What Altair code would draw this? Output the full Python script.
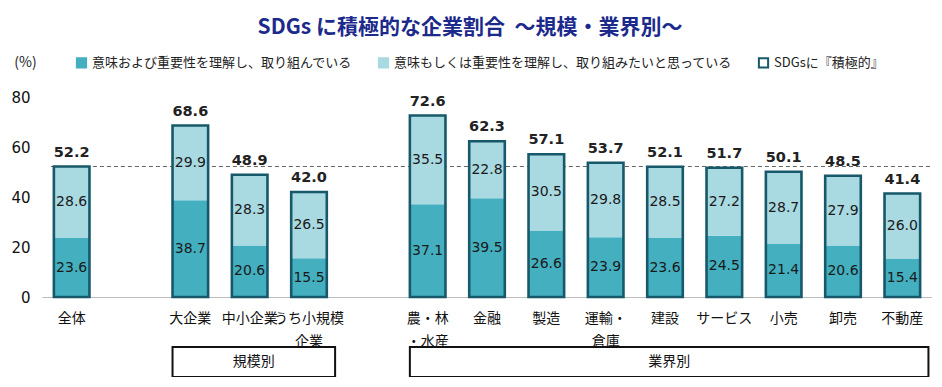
import altair as alt
import pandas as pd

# ---- data -------------------------------------------------------------
slots = ["全体", "_gap1", "大企業", "中小企業", "うち小規模企業", "_gap2",
         "農・林・水産", "金融", "製造", "運輸・倉庫", "建設", "サービス", "小売", "卸売", "不動産"]
categories = ["全体", "大企業", "中小企業", "うち小規模企業",
              "農・林・水産", "金融", "製造", "運輸・倉庫", "建設", "サービス", "小売", "卸売", "不動産"]
axis_labels = ["全体", "大企業", "中小企業", "うち小規模\n企業",
               "農・林\n・水産", "金融", "製造", "運輸・\n倉庫", "建設", "サービス", "小売", "卸売", "不動産"]
engaged = [23.6, 38.7, 20.6, 15.5, 37.1, 39.5, 26.6, 23.9, 23.6, 24.5, 21.4, 20.6, 15.4]
interested = [28.6, 29.9, 28.3, 26.5, 35.5, 22.8, 30.5, 29.8, 28.5, 27.2, 28.7, 27.9, 26.0]
totals = [52.2, 68.6, 48.9, 42.0, 72.6, 62.3, 57.1, 53.7, 52.1, 51.7, 50.1, 48.5, 41.4]
group_names = ["規模別", "業界別"]
group_members = [["大企業", "中小企業", "うち小規模企業"],
                 ["農・林・水産", "金融", "製造", "運輸・倉庫", "建設", "サービス", "小売", "卸売", "不動産"]]
reference_value = 52.2
series_names = ["意味および重要性を理解し、取り組んでいる",
                "意味もしくは重要性を理解し、取り組みたいと思っている",
                "SDGsに『積極的』"]

DARK = "#43AFBF"
LIGHT = "#A9D9E1"
OUTLINE = "#17596A"
JP = "Noto Sans CJK JP"
NUM = "DejaVu Sans"
HALF = 0.3  # half bar width in slot units

# ---- tables -------------------------------------------------------------
seg_rows, tot_rows, lab_rows = [], [], []
for c, lab, e, i, t in zip(categories, axis_labels, engaged, interested, totals):
    s = slots.index(c)
    seg_rows.append(dict(cat=c, x0=s - HALF, x1=s + HALF, xc=s, y0=0, y1=e,
                         mid=e / 2, val=e, series=series_names[0]))
    seg_rows.append(dict(cat=c, x0=s - HALF, x1=s + HALF, xc=s, y0=e, y1=e + i,
                         mid=e + i / 2, val=i, series=series_names[1]))
    tot_rows.append(dict(cat=c, x0=s - HALF, x1=s + HALF, xc=s, y0=0, y1=t,
                         val=t, series=series_names[2]))
    lab_rows.append(dict(xc=s, label=lab))
seg = pd.DataFrame(seg_rows)
tot = pd.DataFrame(tot_rows)
labs = pd.DataFrame(lab_rows)

grp_rows = []
for g, mem in zip(group_names, group_members):
    first = slots.index(mem[0])
    last = slots.index(mem[-1])
    grp_rows.append(dict(name=g, gx0=first - HALF, gx1=last + 0.44,
                         gc=(first - HALF + last + 0.44) / 2))
grp = pd.DataFrame(grp_rows)
ref = pd.DataFrame([dict(rx0=-0.5 + 0.15, rx1=14.55, ry=reference_value)])

# ---- scales & axes ------------------------------------------------------
xs = alt.Scale(domain=[-0.5, 14.5], nice=False, zero=False)
ys = alt.Scale(domain=[0, 80], nice=False)
fill_scale = alt.Scale(domain=series_names, range=[DARK, LIGHT, "transparent"])
stroke_scale = alt.Scale(domain=series_names, range=[DARK, LIGHT, OUTLINE])

x_axis = alt.Axis(title=None, labels=False, ticks=False, grid=False,
                  domainColor="#BDBDBD", domainWidth=1.2)
y_axis = alt.Axis(title="(%)", values=[0, 20, 40, 60, 80], grid=False,
                  ticks=False, domain=False, labelPadding=12,
                  labelFont=NUM, labelFontSize=15, labelColor="#111",
                  titleAngle=0, titleX=-17, titleY=-35,
                  titleAlign="center", titleBaseline="middle",
                  titleFont=JP, titleFontSize=14,
                  titleFontWeight="normal", titleColor="#222")

legend = alt.Legend(title=None, orient="none", legendX=33, legendY=-41,
                    direction="horizontal", columns=3, symbolType="square",
                    symbolSize=85, symbolStrokeWidth=2, labelFont=JP,
                    labelFontSize=13, labelColor="#222", labelLimit=500,
                    labelOffset=4, columnPadding=21, padding=0)


def X(field):
    return alt.X(field, type="quantitative", scale=xs, axis=x_axis)


def Y(field):
    return alt.Y(field, type="quantitative", scale=ys, axis=y_axis)


boxes = alt.Chart(grp).mark_rect(fill="white", stroke="#111", strokeWidth=2).encode(
    x=X("gx0"), x2="gx1:Q", y=alt.value(250), y2=alt.value(280))
box_text = alt.Chart(grp).mark_text(font=JP, fontSize=14, color="#111",
                                    baseline="middle").encode(
    x=X("gc"), y=alt.value(265), text="name:N")

rule = alt.Chart(ref).mark_rule(color="#666", strokeDash=[4, 3], strokeWidth=1).encode(
    x=X("rx0"), x2="rx1:Q", y=Y("ry"))

bars = alt.Chart(seg).mark_bar(strokeWidth=0).encode(
    x=X("x0"), x2="x1:Q", y=Y("y0"), y2="y1:Q",
    fill=alt.Fill("series:N", scale=fill_scale, legend=legend),
    stroke=alt.Stroke("series:N", scale=stroke_scale, legend=legend))

outline = alt.Chart(tot).mark_bar(strokeWidth=2.6).encode(
    x=X("x0"), x2="x1:Q", y=Y("y0"), y2="y1:Q",
    fill=alt.Fill("series:N", scale=fill_scale, legend=legend),
    stroke=alt.Stroke("series:N", scale=stroke_scale, legend=legend))

seg_text = alt.Chart(seg).mark_text(font=NUM, fontSize=14, color="#1A1A1A",
                                    baseline="middle").encode(
    x=X("xc"), y=Y("mid"), text=alt.Text("val:Q", format=".1f"))

tot_text = alt.Chart(tot).mark_text(font=NUM, fontSize=14.5, fontWeight="bold",
                                    color="#222", baseline="middle", dy=-14).encode(
    x=X("xc"), y=Y("y1"), text=alt.Text("val:Q", format=".1f"))

cat_text = alt.Chart(labs).mark_text(font=JP, fontSize=14, color="#111",
                                     baseline="top", lineBreak="\n",
                                     lineHeight=23).encode(
    x=X("xc"), y=alt.value(215), text="label:N")

chart = alt.layer(boxes, box_text, rule, bars, outline, seg_text, tot_text, cat_text).properties(
    width=890, height=200,
    autosize=alt.AutoSizeParams(type="none"),
    padding={"left": 34, "top": 89, "right": 0, "bottom": 80},
    title=alt.Title("SDGs に積極的な企業割合\u00a0\u00a0～規模・業界別～", font=JP, fontSize=21,
                    fontWeight="bold", color="#1C2A8C", anchor="middle",
                    frame="group", offset=17, dx=-17),
).configure_view(stroke=None)

chart.save("out.html", embed_options={"renderer": "svg", "actions": False})
